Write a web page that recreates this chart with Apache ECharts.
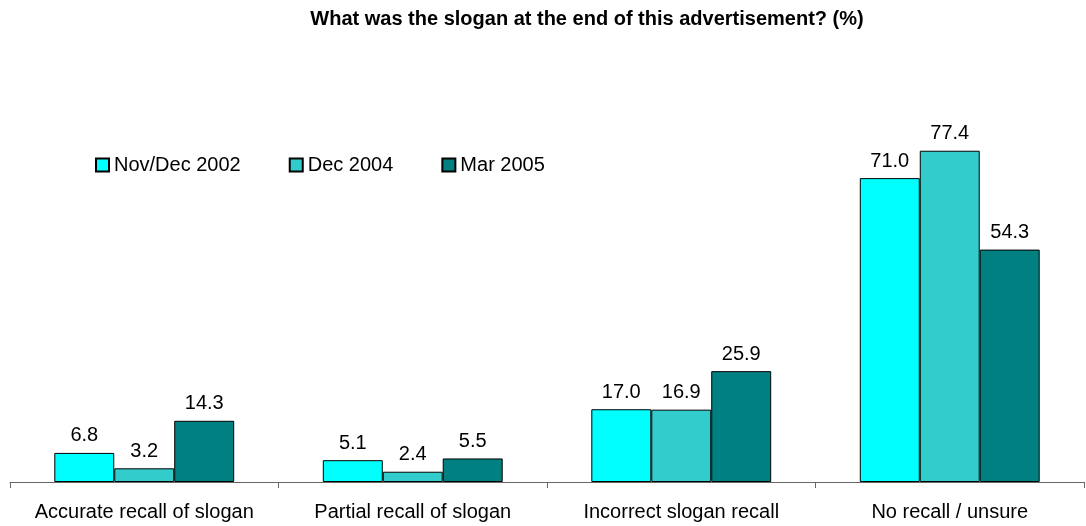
<!DOCTYPE html>
<html>
<head>
    <meta charset="utf-8">
    <title>Slogan recall</title>
    <script src="https://cdn.jsdelivr.net/npm/echarts@6/dist/echarts.min.js"></script>
    <style>
        html, body { margin: 0; padding: 0; background: #fff; }
        #chart { width: 1086px; height: 526px; }
    </style>
</head>
<body>
    <div id="chart"></div>
    <script type="text/javascript">
        // 数据
        var categories = ['Accurate recall of slogan', 'Partial recall of slogan', 'Incorrect slogan recall', 'No recall / unsure'];
        var seriesNames = ['Nov/Dec 2002', 'Dec 2004', 'Mar 2005'];
        var nov2002 = [6.8, 5.1, 17.0, 71.0];
        var dec2004 = [3.2, 2.4, 16.9, 77.4];
        var mar2005 = [14.3, 5.5, 25.9, 54.3];
        var colors = ['#00FFFF', '#33CCCC', '#008080'];

        var font = 'Liberation Sans, Arial, sans-serif';
        var values = [nov2002, dec2004, mar2005];

        var series = seriesNames.map(function (name, i) {
            return {
                name: name,
                type: 'bar',
                barGap: '0%',
                barCategoryGap: '33%',
                data: values[i],
                itemStyle: { color: colors[i], borderColor: '#000', borderWidth: 1 },
                label: {
                    show: true,
                    position: 'top',
                    distance: 7,
                    color: '#000',
                    fontFamily: font,
                    fontSize: 20,
                    formatter: function (p) { return p.value.toFixed(1); }
                }
            };
        });

        var myChart = echarts.init(document.getElementById('chart'));
        myChart.setOption({
            animation: false,
            title: {
                text: 'What was the slogan at the end of this advertisement? (%)',
                left: 582,
                textAlign: 'center',
                top: 4,
                textStyle: { fontFamily: font, fontSize: 20, fontWeight: 'bold', color: '#000' }
            },
            legend: {
                left: 90,
                top: 150,
                icon: 'rect',
                itemWidth: 13,
                itemHeight: 13,
                itemGap: 48,
                textStyle: { fontFamily: font, fontSize: 20, color: '#000' },
                data: seriesNames
            },
            grid: { left: 10, right: 2, top: 54, bottom: 44, containLabel: false },
            xAxis: {
                type: 'category',
                data: categories,
                axisLine: { lineStyle: { color: '#666', width: 1 } },
                axisTick: { show: true, length: 6, lineStyle: { color: '#666' } },
                axisLabel: { margin: 20, color: '#000', fontFamily: font, fontSize: 20, interval: 0 }
            },
            yAxis: {
                type: 'value',
                min: 0,
                max: 100,
                show: false,
                splitLine: { show: false }
            },
            series: series
        });
    </script>
</body>
</html>
